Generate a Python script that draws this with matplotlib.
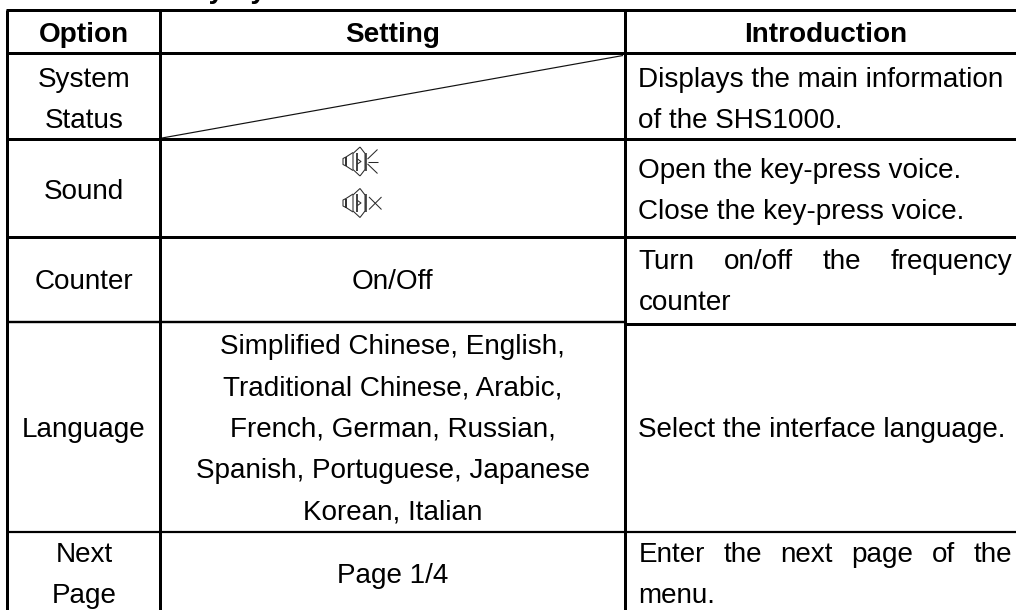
"""Utility System menu table -> out.png"""
import matplotlib.pyplot as plt

W, H = 1016, 610
FONT = "Liberation Sans"
SIZE = 20.1

HEADERS = ["Option", "Setting", "Introduction"]
OPTIONS = [["System", "Status"], ["Sound"], ["Counter"], ["Language"], ["Next", "Page"]]
SETTINGS = [
    [],
    [],
    ["On/Off"],
    [
        "Simplified Chinese, English,",
        "Traditional Chinese, Arabic,",
        "French, German, Russian,",
        "Spanish, Portuguese, Japanese",
        "Korean, Italian",
    ],
    ["Page 1/4"],
]
INTROS = [
    ["Displays the main information", "of the SHS1000."],
    ["Open the key-press voice.", "Close the key-press voice."],
    ["Turn on/off the frequency", "counter"],
    ["Select the interface language."],
    ["Enter the next page of the", "menu."],
]
JUSTIFIED = ["Turn on/off the frequency", "Enter the next page of the"]

# baselines of the first line in each row, pixels from the top
OPTION_Y = [86.7, 198.7, 289, 437, 562]
SETTING_Y = [0, 0, 289, 354, 583]
INTRO_Y = [86.7, 177.7, 269, 437, 562]
LINE_STEP = 41.3

COL_LEFT, COL_1, COL_2 = 7.3, 160.3, 624.7
OPTION_X, SETTING_X, INTRO_X, INTRO_CENTER = 84, 392.5, 638.5, 826
RIGHT_EDGE = 1012.5
LW = 3 * 0.72
ICON = "#2a2a2a"


def line(ax, xs, ys, lw=LW, color="black", cap="butt"):
    ax.plot(xs, ys, color=color, lw=lw, solid_capstyle=cap, clip_on=True)


def put(ax, x, y, s, ha="center", weight="normal"):
    return ax.text(x, y, s, ha=ha, va="baseline", fontsize=SIZE, fontweight=weight,
                   family=FONT, color="black")


def justify(ax, fig, y, s):
    # word spacing stretched up to the cell edge
    words = [put(ax, INTRO_X, y, w, ha="left") for w in s.split()]
    rend = fig.canvas.get_renderer()
    widths = [t.get_window_extent(rend).width for t in words]
    gap = (RIGHT_EDGE - INTRO_X - sum(widths)) / (len(words) - 1)
    x = INTRO_X
    for t, w in zip(words, widths):
        t.set_x(x)
        x += w + gap


def speaker(ax, x, y):
    # x, y = left tip of the horn
    lw = 0.75
    line(ax, [x + 10, x + 3, x, x, x + 3, x + 10],
         [y - 9, y - 4.5, y - 3, y + 3, y + 4.5, y + 9], lw, ICON)
    line(ax, [x + 3, x + 3], [y - 4.5, y + 4.5], lw + 0.6, ICON)
    line(ax, [x + 17, x + 10, x + 10, x + 17],
         [y - 14.5, y - 8, y + 8, y + 14.5], lw, ICON)
    line(ax, [x + 17, x + 22, x + 22, x + 17],
         [y - 14.5, y - 8, y + 8, y + 14.5], lw, ICON)
    line(ax, [x + 14, x + 14], [y - 9, y + 9], lw + 0.5, ICON)
    line(ax, [x + 14.5, x + 18, x + 14.5], [y - 2.5, y, y + 2.5], lw, ICON)
    line(ax, [x + 22.5, x + 22.5], [y - 9, y + 9], lw + 0.4, ICON)


def main():
    fig = plt.figure(figsize=(W / 100, H / 100), dpi=100, facecolor="white")
    ax = fig.add_axes([0, 0, 1, 1])
    ax.set_xlim(0, W)
    ax.set_ylim(H, 0)
    ax.axis("off")

    # grid
    for y in [10.3, 53.3, 139.3, 237.3]:
        line(ax, [COL_LEFT - 1.5, W], [y, y])
    line(ax, [COL_LEFT - 1.5, COL_2], [321.7, 321.7], lw=2.4 * 0.72)
    line(ax, [COL_2, W], [323.7, 323.7])
    line(ax, [COL_LEFT - 1.5, W], [531.7, 531.7], lw=2.2 * 0.72)
    for x in [COL_LEFT, COL_1, COL_2]:
        line(ax, [x, x], [10.3, H])
    line(ax, [162, 623], [138, 55.5], lw=0.85, color="#111111")

    # clipped caption above the table
    put(ax, 146, -2.5, "Utility System", ha="left", weight="bold")

    for x, s in zip([OPTION_X, SETTING_X, INTRO_CENTER], HEADERS):
        put(ax, x, 41.5, s, weight="bold")

    for y0, lines in zip(OPTION_Y, OPTIONS):
        for i, s in enumerate(lines):
            put(ax, OPTION_X, y0 + i * LINE_STEP, s)
    for y0, lines in zip(SETTING_Y, SETTINGS):
        for i, s in enumerate(lines):
            put(ax, SETTING_X, y0 + i * LINE_STEP, s)
    for y0, lines in zip(INTRO_Y, INTROS):
        for i, s in enumerate(lines):
            y = y0 + i * LINE_STEP
            if s in JUSTIFIED:
                justify(ax, fig, y, s)
            else:
                put(ax, INTRO_X, y, s, ha="left")

    # sound on / off icons
    speaker(ax, 343, 161.5)
    for dy, xe in [(-12, 10), (0, 10.5), (12, 10)]:
        line(ax, [367.5, 367.5 + xe], [161.5 + dy * 0.2, 161.5 + dy], 0.75, ICON)
    speaker(ax, 343, 203)
    line(ax, [369, 381.5], [197, 209.5], 0.75, ICON)
    line(ax, [369, 381.5], [209.5, 197], 0.75, ICON)

    fig.savefig("out.png", dpi=100, facecolor="white")
    plt.close(fig)


if __name__ == "__main__":
    main()
